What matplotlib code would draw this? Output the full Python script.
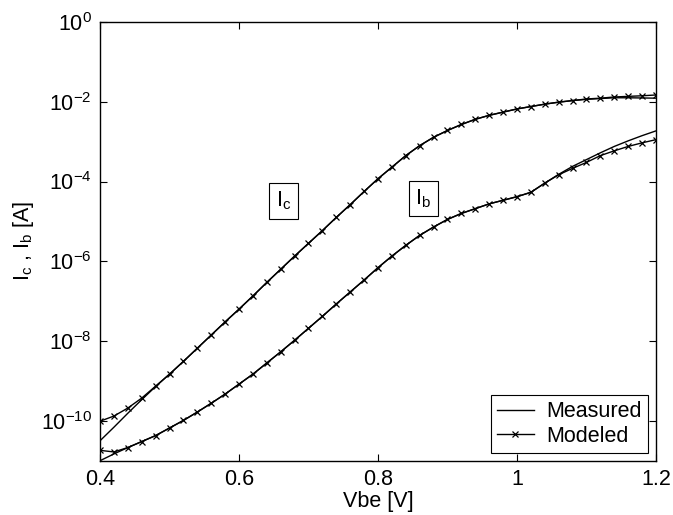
import numpy as np
import matplotlib.pyplot as plt

plt.rcParams['font.family'] = ['Liberation Sans', 'DejaVu Sans']
plt.rcParams['mathtext.fontset'] = 'custom'
plt.rcParams['mathtext.rm'] = 'Liberation Sans'
plt.rcParams['mathtext.it'] = 'Liberation Sans:italic'

# Base-emitter voltage grid (V)
vbe = [0.40, 0.42, 0.44, 0.46, 0.48, 0.50, 0.52, 0.54, 0.56, 0.58,
       0.60, 0.62, 0.64, 0.66, 0.68, 0.70, 0.72, 0.74, 0.76, 0.78,
       0.80, 0.82, 0.84, 0.86, 0.88, 0.90, 0.92, 0.94, 0.96, 0.98,
       1.00, 1.02, 1.04, 1.06, 1.08, 1.10, 1.12, 1.14, 1.16, 1.18, 1.20]

# log10 of currents (A)
ic_model_log = [-10.01, -9.88, -9.68, -9.43, -9.13, -8.83, -8.51, -8.18, -7.85, -7.52,
                -7.20, -6.87, -6.53, -6.20, -5.87, -5.55, -5.23, -4.90, -4.58, -4.25,
                -3.93, -3.64, -3.35, -3.10, -2.89, -2.72, -2.57, -2.44, -2.34, -2.26,
                -2.18, -2.12, -2.06, -2.01, -1.97, -1.93, -1.91, -1.88, -1.865, -1.85, -1.83]
ic_meas_log = [-10.50, -10.16, -9.81, -9.47, -9.14, -8.83, -8.51, -8.18, -7.85, -7.52,
               -7.20, -6.87, -6.53, -6.20, -5.87, -5.55, -5.23, -4.90, -4.58, -4.25,
               -3.93, -3.64, -3.35, -3.10, -2.89, -2.72, -2.57, -2.44, -2.34, -2.26,
               -2.18, -2.12, -2.06, -2.01, -1.97, -1.94, -1.92, -1.90, -1.90, -1.905, -1.91]
ib_model_log = [-10.74, -10.78, -10.67, -10.52, -10.37, -10.18, -9.99, -9.78, -9.56, -9.33,
                -9.08, -8.83, -8.55, -8.27, -7.98, -7.68, -7.38, -7.07, -6.77, -6.47,
                -6.16, -5.87, -5.60, -5.35, -5.14, -4.95, -4.80, -4.68, -4.56, -4.47,
                -4.38, -4.27, -4.04, -3.83, -3.67, -3.52, -3.35, -3.23, -3.12, -3.03, -2.95]
ib_meas_log = [-11.00, -10.83, -10.67, -10.52, -10.37, -10.18, -9.99, -9.78, -9.56, -9.33,
               -9.08, -8.83, -8.55, -8.27, -7.98, -7.68, -7.38, -7.07, -6.77, -6.47,
               -6.16, -5.87, -5.60, -5.35, -5.14, -4.95, -4.80, -4.68, -4.56, -4.47,
               -4.38, -4.27, -4.04, -3.82, -3.62, -3.45, -3.28, -3.12, -2.98, -2.85, -2.73]

yticks = [1e-10, 1e-8, 1e-6, 1e-4, 1e-2, 1e0]
ytick_labels = [r'$10^{-10}$', r'$10^{-8}$', r'$10^{-6}$', r'$10^{-4}$', r'$10^{-2}$', r'$10^{0}$']
xticks = [0.4, 0.6, 0.8, 1.0, 1.2]
xtick_labels = ['0.4', '0.6', '0.8', '1', '1.2']

fs = 15.5

fig = plt.figure(figsize=(6.73, 5.15), dpi=100)
ax = fig.add_axes([0.1486, 0.1054, 0.8261, 0.8519])

ax.semilogy(vbe, 10 ** np.array(ic_meas_log), 'k-', lw=1.0, label='Measured')
ax.semilogy(vbe, 10 ** np.array(ic_model_log), 'k-x', lw=1.0, ms=4.5, mew=0.9, label='Modeled')
ax.semilogy(vbe, 10 ** np.array(ib_meas_log), 'k-', lw=1.0)
ax.semilogy(vbe, 10 ** np.array(ib_model_log), 'k-x', lw=1.0, ms=4.5, mew=0.9)

ax.set_xlim(0.4, 1.2)
ax.set_ylim(1e-11, 1e0)
ax.set_yticks(yticks)
ax.set_yticklabels(ytick_labels)
ax.yaxis.set_minor_locator(plt.NullLocator())
ax.set_xticks(xticks)
ax.set_xticklabels(xtick_labels)
ax.tick_params(direction='in', top=True, right=True, length=5, width=0.8,
               labelsize=fs, pad=6)
for s in ax.spines.values():
    s.set_linewidth(1.0)

ax.set_xlabel('Vbe [V]', fontsize=fs, labelpad=1)
ax.set_ylabel(r'I$_{\rm c}$ , I$_{\rm b}$ [A]', fontsize=fs, labelpad=3)

box = dict(boxstyle='square,pad=0.3', facecolor='white', edgecolor='black', lw=0.8)
ax.text(0.664, 10 ** -4.49, r'I$_{\rm c}$', fontsize=fs, ha='center', va='center', bbox=box)
ax.text(0.865, 10 ** -4.43, r'I$_{\rm b}$', fontsize=fs, ha='center', va='center', bbox=box)

leg = ax.legend(loc='lower right', fontsize=fs, numpoints=1, fancybox=False,
                edgecolor='black', framealpha=1, borderaxespad=0.35,
                handlelength=1.7, handletextpad=0.6, borderpad=0.3, labelspacing=0.15)
leg.get_frame().set_linewidth(0.8)

plt.savefig('out.png', dpi=100)
